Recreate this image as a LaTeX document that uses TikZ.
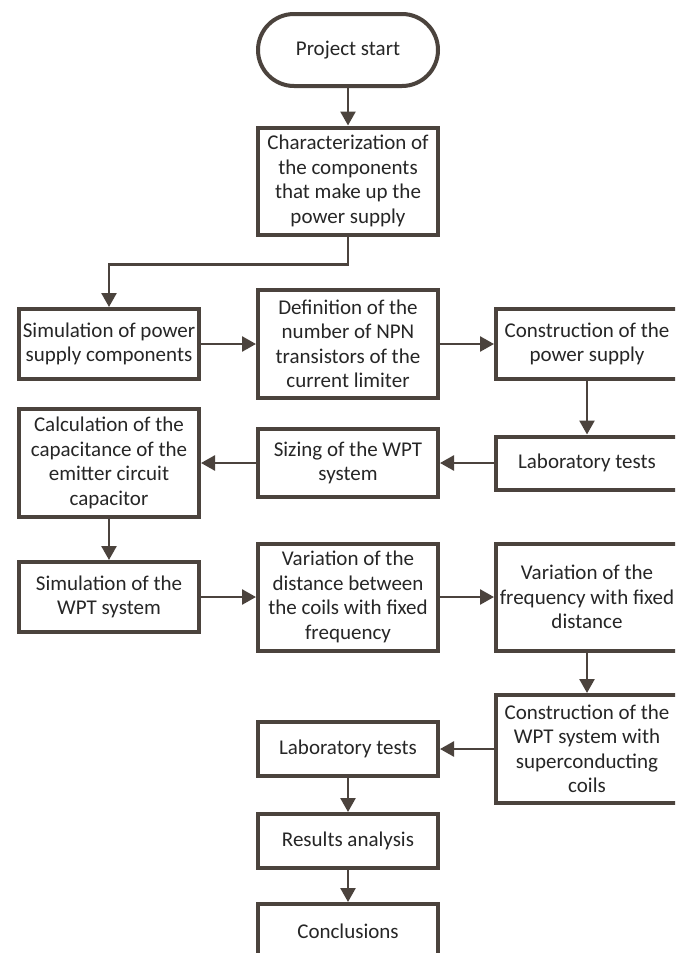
\documentclass[tikz,border=0pt]{standalone}
\usepackage{fontspec}
\setmainfont{Carlito}
\usepackage{xcolor}
\usepackage{tikz}
\usetikzlibrary{positioning}
\usetikzlibrary{arrows.meta}
\definecolor{boxgrey}{HTML}{4B433D}
\tikzset{
	box/.style={draw=boxgrey,line width=4pt,fill=white,align=center,text=black!85,
		minimum width=180pt,inner sep=2pt,font=\fontsize{21}{24.5}\selectfont},
	startbox/.style={box,rounded corners=36pt},
	link/.style={draw=boxgrey,line width=2.6pt,-{Triangle[length=14pt,width=15pt]}}
}

\begin{document}
\begin{tikzpicture}[x=1pt,y=-1pt]
				\def\colA{109};
				\def\colB{348};
				\def\colC{587};
				\useasboundingbox (0,0) rectangle (675,953);
				\clip (0,0) rectangle (675,953); % boxes on the right and bottom are cut
				
				%Debut
				\node[startbox,minimum height=72pt] (start) at (\colB,50) {Project start};
				\node[box,minimum height=107pt] (charac) at (\colB,181) {Characterization of\\the components\\that make up the\\power supply};
				
				%Alimentation
				\node[box,minimum height=70pt] (simps) at (\colA,344) {Simulation of power\\supply components};
				\node[box,minimum height=108pt] (npn) at (\colB,344) {Definition of the\\number of NPN\\transistors of the\\current limiter};
				\node[box,minimum height=70pt,minimum width=182pt] (constps) at (\colC,344) {Construction of the\\power supply};
				
				%Essais et WPT
				\node[box,minimum height=53pt,minimum width=182pt] (labA) at (\colC,463) {Laboratory tests};
				\node[box,minimum height=68pt] (sizing) at (\colB,463) {Sizing of the WPT\\system};
				\node[box,minimum height=108pt] (calc) at (\colA,463) {Calculation of the\\capacitance of the\\emitter circuit\\capacitor};
				
				\node[box,minimum height=70pt] (simwpt) at (\colA,597) {Simulation of the\\WPT system};
				\node[box,minimum height=107pt] (vardist) at (\colB,597) {Variation of the\\distance between\\the coils with fixed\\frequency};
				\node[box,minimum height=107pt,minimum width=182pt] (varfreq) at (\colC,597) {Variation of the\\frequency with fixed\\distance};
				
				%Fin
				\node[box,minimum height=108pt,minimum width=182pt] (constwpt) at (\colC,749) {Construction of the\\WPT system with\\superconducting\\coils};
				\node[box,minimum height=54pt] (labB) at (\colB,749) {Laboratory tests};
				\node[box,minimum height=54pt] (results) at (\colB,841) {Results analysis};
				\node[box,minimum height=54pt] (concl) at (\colB,931) {Conclusions};
				
				%Fleches
				\draw[link] (start) -- (charac);
				\draw[link] (charac.south) -- ++(0,28) -| (simps.north);
				\draw[link] (simps) -- (npn);
				\draw[link] (npn) -- (constps);
				\draw[link] (constps) -- (labA);
				\draw[link] (labA) -- (sizing);
				\draw[link] (sizing) -- (calc);
				\draw[link] (calc) -- (simwpt);
				\draw[link] (simwpt) -- (vardist);
				\draw[link] (vardist) -- (varfreq);
				\draw[link] (varfreq) -- (constwpt);
				\draw[link] (constwpt) -- (labB);
				\draw[link] (labB) -- (results);
				\draw[link] (results) -- (concl);
			\end{tikzpicture}
\end{document}
